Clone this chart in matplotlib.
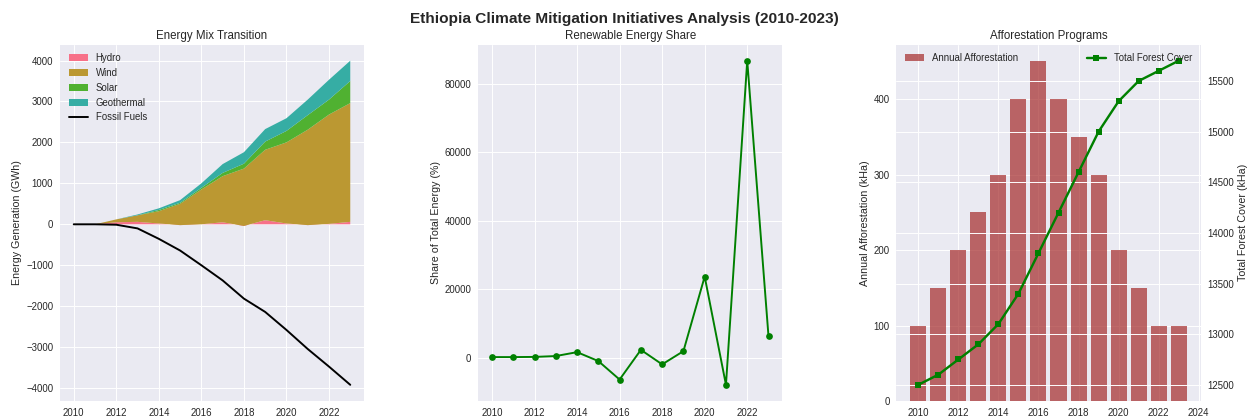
import matplotlib
matplotlib.use('Agg')
import matplotlib.pyplot as plt
import seaborn as sns
import numpy as np

plt.style.use('seaborn-v0_8')
sns.set_palette('husl')

years = [2010, 2011, 2012, 2013, 2014, 2015, 2016, 2017, 2018, 2019, 2020, 2021, 2022, 2023]

# energy generation by source (GWh)
hydro = [0, 0, 50, 60, 20, -20, 0, 50, -40, 100, 20, -20, 10, 60]
wind = [0, 0, 70, 160, 300, 520, 850, 1125, 1400, 1720, 1980, 2330, 2670, 2900]
solar = [0, 0, 0, 0, 30, 25, 40, 80, 120, 200, 280, 355, 365, 540]
geothermal = [0, 0, 0, 20, 40, 65, 110, 215, 280, 305, 310, 380, 485, 495]
fossil = [0, 0, -10, -100, -355, -640, -1000, -1370, -1815, -2140, -2580, -3045, -3475, -3920]

# renewable share (%)
renewable_share = [200, 200, 250, 500, 1640, -960, -6360, 2310, -1930, 1930,
                   23710, -7900, 86750, 6270]

# afforestation (kHa)
annual_afforestation = [100, 150, 200, 250, 300, 400, 450, 400, 350, 300, 200, 150, 100, 100]
forest_cover = [12500, 12600, 12750, 12900, 13100, 13400, 13800, 14200, 14600,
                15000, 15300, 15500, 15600, 15700]

fig, axes = plt.subplots(1, 3, figsize=(18, 6))
fig.suptitle('Ethiopia Climate Mitigation Initiatives Analysis (2010-2023)',
             fontsize=16, fontweight='bold', y=0.972)

# energy mix
ax = axes[0]
ax.stackplot(years, hydro, wind, solar, geothermal,
             labels=['Hydro', 'Wind', 'Solar', 'Geothermal'])
ax.plot(years, fossil, color='black', linewidth=2, label='Fossil Fuels')
ax.set_title('Energy Mix Transition')
ax.set_ylabel('Energy Generation (GWh)')
ax.legend(loc='upper left')

# renewable share
ax = axes[1]
ax.plot(years, renewable_share, color='green', marker='o', linewidth=2)
ax.set_title('Renewable Energy Share')
ax.set_ylabel('Share of Total Energy (%)')

# afforestation
ax = axes[2]
ax.bar(years, annual_afforestation, color='brown', alpha=0.7, label='Annual Afforestation')
ax.set_ylabel('Annual Afforestation (kHa)')
ax.set_title('Afforestation Programs')
ax2 = ax.twinx()
ax2.plot(years, forest_cover, color='green', marker='s', linewidth=2.5, label='Total Forest Cover')
ax2.set_ylabel('Total Forest Cover (kHa)')
ax.legend(loc='upper left')
ax2.legend(loc='upper right')

fig.subplots_adjust(left=0.048, right=0.962, top=0.893, bottom=0.036, wspace=0.375)
plt.savefig('out.png', dpi=1248 / 18)
